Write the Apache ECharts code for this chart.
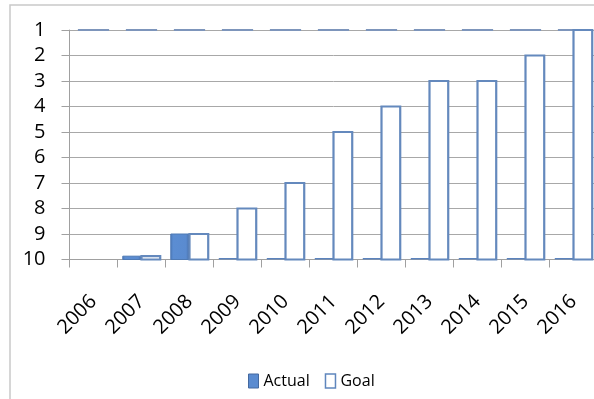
<!DOCTYPE html>
<html>
<head>
<meta charset="utf-8">
<script src="https://cdn.jsdelivr.net/npm/echarts@6/dist/echarts.min.js"></script>
<style>
  html, body { margin: 0; padding: 0; background: #fff; overflow: hidden; }
  #chart { width: 600px; height: 399px; }
</style>
</head>
<body>
<div id="chart"></div>
<script>
// Ranking by year: 1 is best, bars rise from rank 10.
const years = ['2006', '2007', '2008', '2009', '2010', '2011', '2012', '2013', '2014', '2015', '2016'];
const actual = [null, 9.87, 9, 10, 10, 10, 10, 10, 10, 10, 10];
const goal = [null, 9.87, 9, 8, 7, 5, 4, 3, 3, 2, 1];
const topMark = [1, 1, 1, 1, 1, 1, 1, 1, 1, 1, 1];
const rankTicks = [1, 2, 3, 4, 5, 6, 7, 8, 9, 10];

const FONT = '"Open Sans"';
const BASE_RANK = rankTicks[rankTicks.length - 1];
const BAR_SHARE = 0.39;

function toPoints(values) {
  const pts = [];
  values.forEach(function (v, i) {
    if (v !== null) pts.push([i, v]);
  });
  return pts;
}

// Draws a column from the baseline rank up to the item's rank.
// side < 0 puts it left of the category centre, side > 0 to the right.
function columnRenderer(side, styleFor) {
  return function (params, api) {
    const c = api.value(0);
    const v = api.value(1);
    const base = api.coord([c, BASE_RANK]);
    const top = api.coord([c, v]);
    const band = api.size([1, 0])[0];
    const w = band * BAR_SHARE;
    const x = side < 0 ? base[0] - w : base[0];
    let h = base[1] - top[1];
    let y = top[1];
    if (h < 1.5) { h = 1.5; y = base[1] - 1.5; }
    return {
      type: 'rect',
      shape: { x: x, y: y, width: w, height: h },
      style: styleFor(h)
    };
  };
}

const actualFill = {
  type: 'linear', x: 0, y: 0, x2: 1, y2: 0,
  colorStops: [
    { offset: 0, color: '#4a78b6' },
    { offset: 0.15, color: '#5b8dd2' },
    { offset: 0.8, color: '#5a8bd0' },
    { offset: 1, color: '#44699f' }
  ]
};

const chart = echarts.init(document.getElementById('chart'), null, { renderer: 'canvas' });

chart.setOption({
  animation: false,
  backgroundColor: '#ffffff',
  textStyle: { fontFamily: FONT },
  graphic: [{
    type: 'rect',
    z: -10,
    shape: { x: 10, y: 5, width: 700, height: 500 },
    style: { fill: 'none', stroke: '#c9c9c9', lineWidth: 1.5 }
  }],
  grid: { left: 69.5, top: 30, width: 528, height: 229.5 },
  legend: {
    left: 243,
    top: 368,
    itemWidth: 10,
    itemHeight: 14,
    itemGap: 15,
    icon: 'rect',
    textStyle: { fontFamily: FONT, fontSize: 16, color: '#000' },
    data: [
      { name: 'Actual', itemStyle: { color: '#5a8bd0', borderColor: '#44699f', borderWidth: 1 } },
      { name: 'Goal', itemStyle: { color: '#ffffff', borderColor: '#5f86bd', borderWidth: 1.5 } }
    ]
  },
  xAxis: {
    type: 'category',
    data: years,
    boundaryGap: true,
    axisLine: { show: true, lineStyle: { color: '#a0a0a0', width: 1 } },
    axisTick: { show: true, alignWithLabel: false, interval: 0, length: 8, lineStyle: { color: '#a0a0a0' } },
    axisLabel: {
      interval: 0,
      rotate: 45,
      margin: 39,
      fontFamily: FONT,
      fontSize: 20,
      color: '#000'
    },
    splitLine: { show: false }
  },
  yAxis: {
    type: 'value',
    inverse: true,
    min: rankTicks[0],
    max: BASE_RANK,
    interval: 1,
    axisLine: { show: true, lineStyle: { color: '#a0a0a0', width: 1 } },
    axisTick: { show: true, length: 8, lineStyle: { color: '#a0a0a0' } },
    axisLabel: {
      margin: 24,
      fontFamily: FONT,
      fontSize: 20,
      color: '#000',
      formatter: function (v) { return rankTicks.indexOf(v) >= 0 ? String(v) : ''; }
    },
    splitLine: { show: true, lineStyle: { color: '#a8a8a8', width: 1 } }
  },
  series: [
    {
      name: 'Actual',
      type: 'custom',
      coordinateSystem: 'cartesian2d',
      encode: { x: 0, y: 1 },
      itemStyle: { color: '#5a8bd0' },
      data: toPoints(actual),
      z: 3,
      renderItem: columnRenderer(-1, function (h) {
        return h <= 1.5
          ? { fill: '#5b83bd' }
          : { fill: actualFill, stroke: '#4f7ab4', lineWidth: 1 };
      })
    },
    {
      name: 'Goal',
      type: 'custom',
      coordinateSystem: 'cartesian2d',
      encode: { x: 0, y: 1 },
      itemStyle: { color: '#ffffff', borderColor: '#5f86bd' },
      data: toPoints(goal),
      z: 3,
      renderItem: columnRenderer(1, function (h) {
        return h <= 1.5
          ? { fill: '#5b83bd' }
          : { fill: '#ffffff', stroke: '#6489bd', lineWidth: 2.2 };
      })
    },
    {
      name: 'Top',
      type: 'custom',
      coordinateSystem: 'cartesian2d',
      encode: { x: 0, y: 1 },
      data: toPoints(topMark),
      z: 2,
      silent: true,
      renderItem: function (params, api) {
        const p = api.coord([api.value(0), api.value(1)]);
        const band = api.size([1, 0])[0];
        const w = band * 0.65;
        return {
          type: 'rect',
          shape: { x: p[0] - w / 2, y: p[1] - 1, width: w, height: 2 },
          style: { fill: '#7d95bb' }
        };
      }
    }
  ]
});
</script>
</body>
</html>
